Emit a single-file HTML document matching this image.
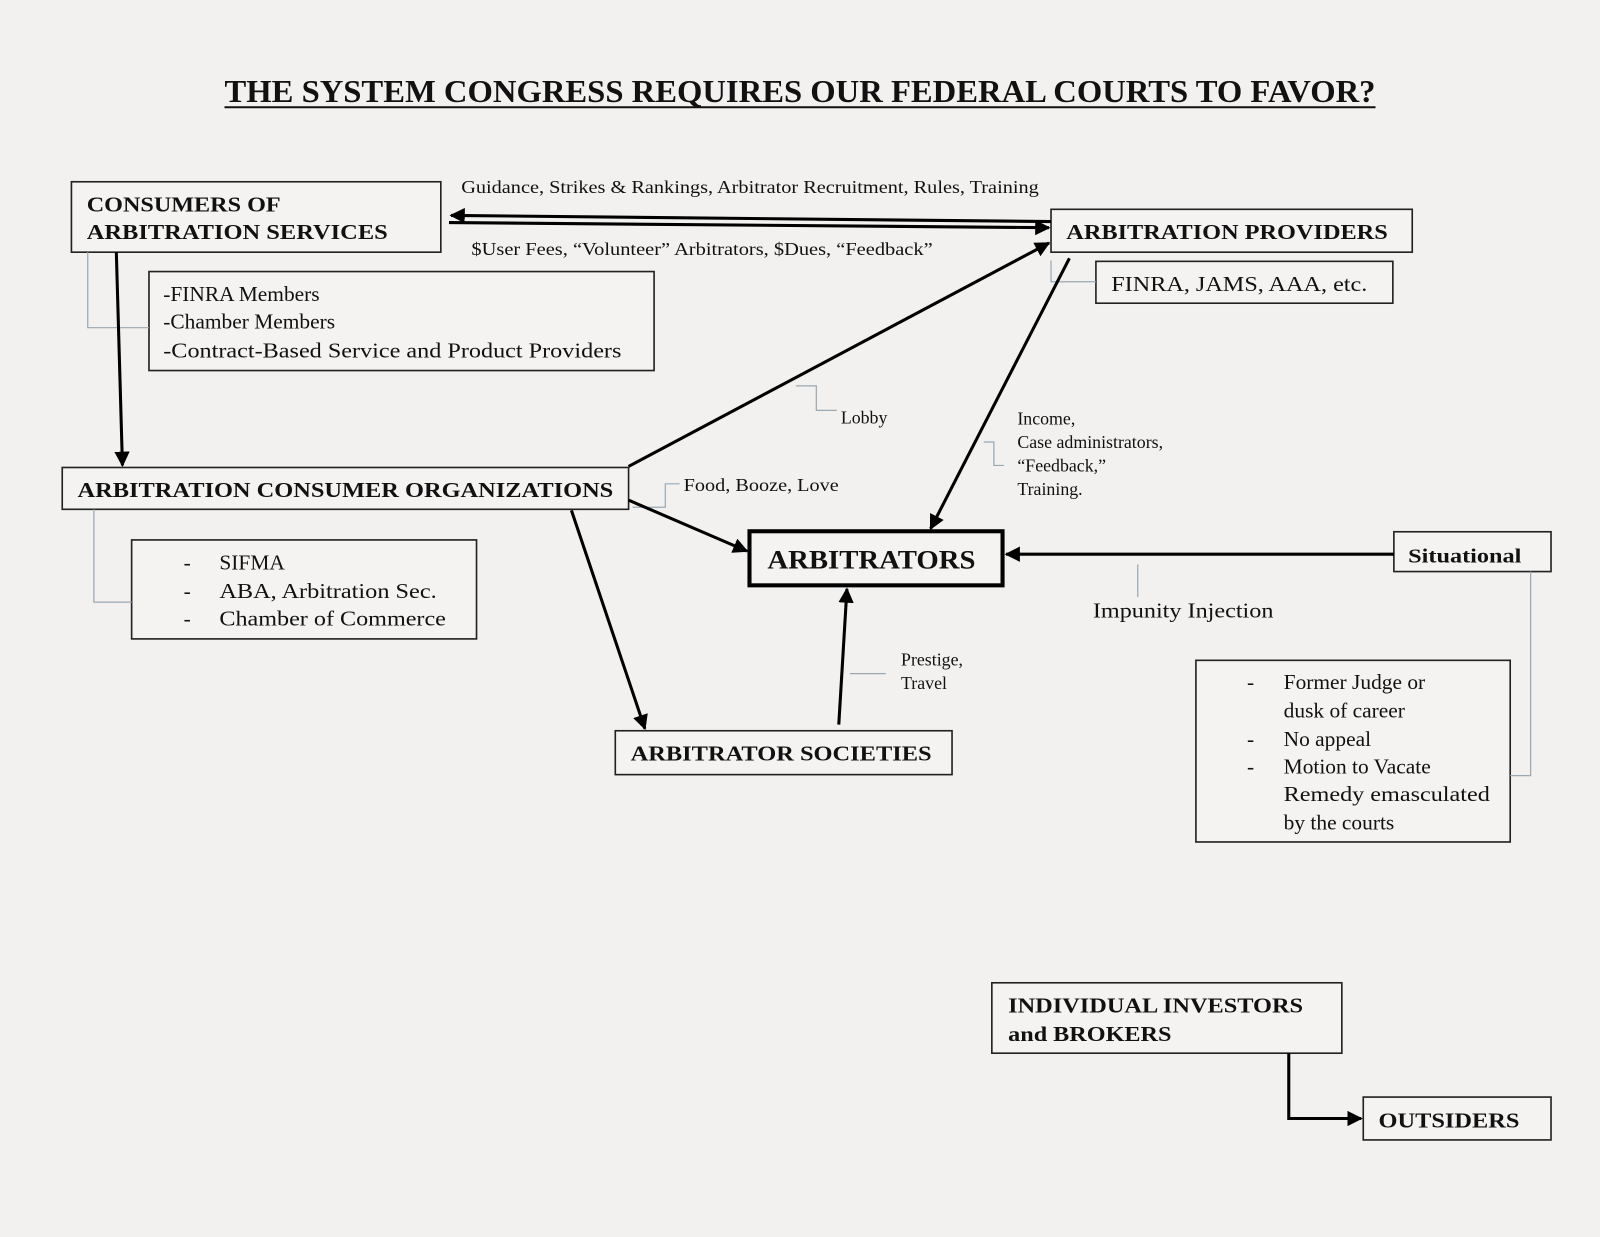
<!DOCTYPE html>
<html><head><meta charset="utf-8"><style>
html,body{margin:0;padding:0;background:#f2f1f0;}
svg{display:block}
text{font-family:"Liberation Serif",serif;fill:#111;}
.b{font-weight:bold}
</style></head><body>
<svg width="1600" height="1237" viewBox="0 0 1568 1212" xmlns="http://www.w3.org/2000/svg">
<defs>
<marker id="a" viewBox="0 0 10 10" refX="9" refY="5" markerWidth="5" markerHeight="5" orient="auto" markerUnits="strokeWidth"><path d="M0,0 L10,5 L0,10 z" fill="#000"/></marker>
</defs>
<rect width="1568" height="1212" fill="#f2f1f0"/>
<text x="784" y="100" class="b" font-size="31" text-anchor="middle" textLength="1128" lengthAdjust="spacingAndGlyphs">THE SYSTEM CONGRESS REQUIRES OUR FEDERAL COURTS TO FAVOR?</text>
<line x1="220" y1="105" x2="1348" y2="105" stroke="#111" stroke-width="2"/>

<g fill="#f4f3f2" stroke="#222" stroke-width="1.6">
<rect x="70" y="178" width="362" height="69"/>
<rect x="146" y="266" width="495" height="97"/>
<rect x="1030" y="205" width="354" height="42"/>
<rect x="1074" y="256" width="291" height="41"/>
<rect x="61" y="458" width="555" height="41"/>
<rect x="129" y="529" width="338" height="97"/>
<rect x="1366" y="521" width="154" height="39"/>
<rect x="1172" y="647" width="308" height="178"/>
<rect x="603" y="716" width="330" height="43"/>
<rect x="972" y="963" width="343" height="69"/>
<rect x="1336" y="1075" width="184" height="42"/>
</g>
<rect x="734.5" y="520.5" width="248" height="53" fill="#f4f3f2" stroke="#000" stroke-width="4"/>

<g font-size="21" class="b">
<text x="85" y="207" class="b" textLength="190" lengthAdjust="spacingAndGlyphs">CONSUMERS OF</text>
<text x="85" y="234" class="b" textLength="295" lengthAdjust="spacingAndGlyphs">ARBITRATION SERVICES</text>
<text x="1045" y="234" class="b" textLength="315" lengthAdjust="spacingAndGlyphs">ARBITRATION PROVIDERS</text>
<text x="76" y="487" class="b" textLength="525" lengthAdjust="spacingAndGlyphs">ARBITRATION CONSUMER ORGANIZATIONS</text>
<text x="1380" y="551" class="b" font-size="20" textLength="111" lengthAdjust="spacingAndGlyphs">Situational</text>
<text x="618" y="745" class="b" textLength="295" lengthAdjust="spacingAndGlyphs">ARBITRATOR SOCIETIES</text>
<text x="988" y="992" class="b" textLength="289" lengthAdjust="spacingAndGlyphs">INDIVIDUAL INVESTORS</text>
<text x="988" y="1020" class="b" textLength="160" lengthAdjust="spacingAndGlyphs">and BROKERS</text>
<text x="1351" y="1105" class="b" textLength="138" lengthAdjust="spacingAndGlyphs">OUTSIDERS</text>
</g>
<text x="752" y="557" class="b" font-size="26" textLength="204" lengthAdjust="spacingAndGlyphs">ARBITRATORS</text>

<g font-size="21">
<text x="160" y="295">-FINRA Members</text>
<text x="160" y="322">-Chamber Members</text>
<text x="160" y="350" textLength="449" lengthAdjust="spacingAndGlyphs">-Contract-Based Service and Product Providers</text>
<text x="1089" y="285" textLength="251" lengthAdjust="spacingAndGlyphs">FINRA, JAMS, AAA, etc.</text>
<text x="180" y="558">-</text><text x="215" y="558">SIFMA</text>
<text x="180" y="586">-</text><text x="215" y="586" textLength="213" lengthAdjust="spacingAndGlyphs">ABA, Arbitration Sec.</text>
<text x="180" y="613">-</text><text x="215" y="613" textLength="222" lengthAdjust="spacingAndGlyphs">Chamber of Commerce</text>
<text x="1222" y="675">-</text><text x="1258" y="675">Former Judge or</text>
<text x="1258" y="703">dusk of career</text>
<text x="1222" y="731">-</text><text x="1258" y="731">No appeal</text>
<text x="1222" y="758">-</text><text x="1258" y="758">Motion to Vacate</text>
<text x="1258" y="785" textLength="202" lengthAdjust="spacingAndGlyphs">Remedy emasculated</text>
<text x="1258" y="813">by the courts</text>
<text x="1071" y="605" textLength="177" lengthAdjust="spacingAndGlyphs">Impunity Injection</text>
</g>
<g font-size="17.5">
<text x="452" y="189" textLength="566" lengthAdjust="spacingAndGlyphs">Guidance, Strikes &amp; Rankings, Arbitrator Recruitment, Rules, Training</text>
<text x="462" y="250" textLength="452" lengthAdjust="spacingAndGlyphs">$User Fees, “Volunteer” Arbitrators, $Dues, “Feedback”</text>
<text x="824" y="415">Lobby</text>
<text x="670" y="481" textLength="152" lengthAdjust="spacingAndGlyphs">Food, Booze, Love</text>
<text x="997" y="416">Income,</text>
<text x="997" y="439">Case administrators,</text>
<text x="997" y="462">“Feedback,”</text>
<text x="997" y="485">Training.</text>
<text x="883" y="652">Prestige,</text>
<text x="883" y="675">Travel</text>
</g>

<g fill="none" stroke="#9aa8b2" stroke-width="1.2">
<polyline points="86,247 86,321 146,321"/>
<polyline points="92,499 92,590 129,590"/>
<polyline points="1030,255 1030,276 1074,276"/>
<polyline points="780,378 800,378 800,402 820,402"/>
<polyline points="666,474 652,474 652,497 620,497"/>
<polyline points="964,433 974,433 974,456 984,456"/>
<line x1="1115" y1="553" x2="1115" y2="585"/>
<line x1="833" y1="660" x2="868" y2="660"/>
<polyline points="1500,560 1500,760 1480,760"/>
</g>

<g stroke="#000" stroke-width="3" fill="none">
<line x1="1030" y1="217" x2="442" y2="211" marker-end="url(#a)"/>
<line x1="440" y1="218" x2="1028" y2="223" marker-end="url(#a)"/>
<line x1="114" y1="247" x2="120" y2="456" marker-end="url(#a)"/>
<line x1="616" y1="457" x2="1028" y2="238" marker-end="url(#a)"/>
<line x1="1048" y1="253" x2="912" y2="518" marker-end="url(#a)"/>
<line x1="616" y1="490" x2="732" y2="540" marker-end="url(#a)"/>
<line x1="560" y1="500" x2="632" y2="714" marker-end="url(#a)"/>
<line x1="822" y1="710" x2="830" y2="577" marker-end="url(#a)"/>
<line x1="1366" y1="543" x2="986" y2="543" marker-end="url(#a)"/>
<polyline points="1263,1032 1263,1096 1334,1096" marker-end="url(#a)"/>
</g>
</svg>
</body></html>
